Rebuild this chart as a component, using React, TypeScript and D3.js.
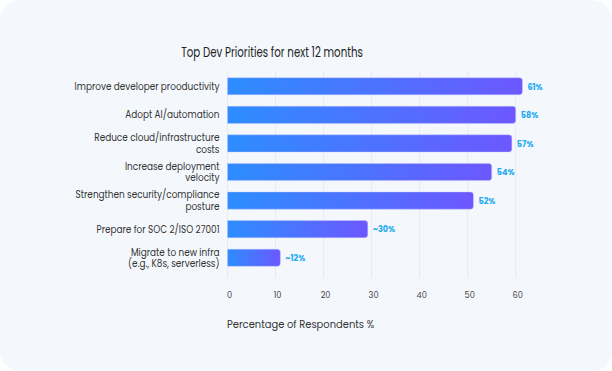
import React, { useEffect, useRef } from 'react';
import * as d3 from 'd3';

// categories (top to bottom), label lines split for wrapping
const categories = [
  ['Improve developer prooductivity'],
  ['Adopt AI/automation'],
  ['Reduce cloud/infrastructure', 'costs'],
  ['Increase deployment', 'velocity'],
  ['Strengthen security/compliance', 'posture'],
  ['Prepare for SOC 2/ISO 27001'],
  ['Migrate to new infra', '(e.g., K8s, serverless)'],
];
// bar lengths as drawn in the picture
const barValues = [61.4, 60, 59.2, 55, 51.2, 29.2, 11];
// value labels printed next to the bars
const valueLabels = ['61%', '58%', '57%', '54%', '52%', '~30%', '~12%'];
const xTicks = [0, 10, 20, 30, 40, 50, 60];

const W = 612;
const H = 371;
const FONT = "Poppins, 'Open Sans', sans-serif";
const SQ = 0.88; // text in the picture is a bit squeezed horizontally

const App = () => {
  const svgRef = useRef<SVGSVGElement>(null);

  useEffect(() => {
    const svg = d3.select(svgRef.current);
    svg.selectAll('*').remove();

    const x = d3.scaleLinear().domain([0, 60]).range([227.5, 515.7]);
    const y = d3.scaleBand<number>()
      .domain(d3.range(categories.length))
      .range([72, 272])
      .paddingInner(0.4)
      .paddingOuter(0.2);

    // card background
    svg.append('rect')
      .attr('width', W).attr('height', H)
      .attr('rx', 20)
      .attr('fill', '#f4f8fd');

    const defs = svg.append('defs');
    const grad = defs.append('linearGradient').attr('id', 'barGrad');
    grad.append('stop').attr('offset', '0%').attr('stop-color', '#2d8dff');
    grad.append('stop').attr('offset', '100%').attr('stop-color', '#6c58ff');

    // title
    svg.append('text')
      .attr('transform', 'translate(272,57) scale(0.76,1)')
      .attr('text-anchor', 'middle')
      .style('font-family', FONT)
      .style('font-size', '13.5px')
      .style('fill', '#222')
      .text('Top Dev Priorities for next 12 months');

    // gridlines
    svg.append('g')
      .selectAll('line')
      .data(xTicks)
      .join('line')
      .attr('x1', d => x(d)).attr('x2', d => x(d))
      .attr('y1', 72).attr('y2', 278)
      .attr('stroke', '#e6ebf1')
      .attr('stroke-width', 1);

    // tick labels
    svg.append('g')
      .selectAll('text')
      .data(xTicks)
      .join('text')
      .attr('transform', d => `translate(${x(d) + 2},297.5) scale(${SQ},1)`)
      .attr('text-anchor', 'middle')
      .style('font-family', FONT)
      .style('font-size', '9.3px')
      .style('fill', '#444')
      .text(d => d);

    // axis title
    svg.append('text')
      .attr('transform', `translate(227,328) scale(${SQ},1)`)
      .style('font-family', FONT)
      .style('font-size', '11.3px')
      .style('fill', '#333')
      .text('Percentage of Respondents %');

    const bh = y.bandwidth();
    const r = 3;

    // bars, rounded on the right only
    svg.append('g')
      .selectAll('path')
      .data(barValues)
      .join('path')
      .attr('d', (d, i) => {
        const x0 = x(0);
        const x1 = x(d);
        const y0 = y(i)!;
        const p = d3.path();
        p.moveTo(x0, y0);
        p.lineTo(x1 - r, y0);
        p.arcTo(x1, y0, x1, y0 + r, r);
        p.lineTo(x1, y0 + bh - r);
        p.arcTo(x1, y0 + bh, x1 - r, y0 + bh, r);
        p.lineTo(x0, y0 + bh);
        p.closePath();
        return p.toString();
      })
      .attr('fill', 'url(#barGrad)')
      .attr('stroke', '#c8c4ff')
      .attr('stroke-opacity', 0.5)
      .attr('stroke-width', 0.8);

    // value labels
    svg.append('g')
      .selectAll('text')
      .data(barValues)
      .join('text')
      .attr('transform', (d, i) => `translate(${x(d) + 5},${y(i)! + bh / 2 + 3.3}) scale(${SQ},1)`)
      .style('font-family', FONT)
      .style('font-size', '9.2px')
      .style('font-weight', 'bold')
      .style('fill', '#22aaf2')
      .text((d, i) => valueLabels[i]);

    // category labels
    const lineH = 11.3;
    svg.append('g')
      .selectAll('text')
      .data(categories)
      .join('text')
      .attr('transform', (lines, i) => {
        const cy = y(i)! + bh / 2;
        const start = cy - ((lines.length - 1) * lineH) / 2 + 3.5;
        return `translate(219.5,${start}) scale(0.89,1)`;
      })
      .attr('text-anchor', 'end')
      .style('font-family', FONT)
      .style('font-size', '10px')
      .style('fill', '#333')
      .each(function (lines) {
        d3.select(this)
          .selectAll('tspan')
          .data(lines)
          .join('tspan')
          .attr('x', 0)
          .attr('y', (l, j) => j * lineH)
          .text(l => l);
      });
  }, []);

  return (
    <svg
      ref={svgRef}
      width={W}
      height={H}
      style={{ position: 'absolute', left: 0, top: 0, background: '#fff' }}
    />
  );
};

export default App;
